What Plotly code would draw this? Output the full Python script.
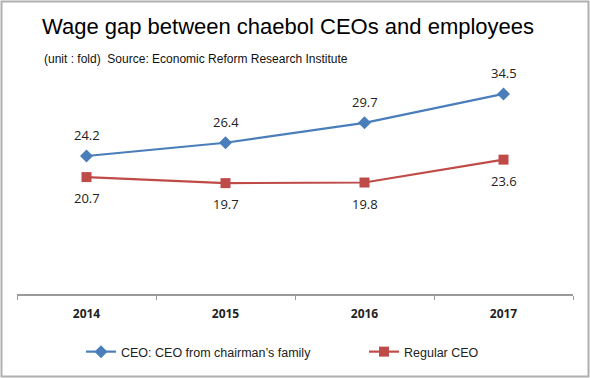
import plotly.graph_objects as go

years = ["2014", "2015", "2016", "2017"]
family_ceo = [24.2, 26.4, 29.7, 34.5]
regular_ceo = [20.7, 19.7, 19.8, 23.6]
series_names = ["CEO: CEO from chairman\u2019s family", "Regular CEO"]
title_text = "Wage gap between chaebol CEOs and employees"
subtitle_text = "(unit : fold)  Source: Economic Reform Research Institute"

W, H = 590, 378
L, R, T, B = 17, 573, 62, 294  # plot area in px

def px(x):
    return (x - L) / (R - L)

def py(y):
    return (B - y) / (B - T)

BLUE = "#4a7ebb"
RED = "#be4b48"
LABEL_FONT = dict(family="Open Sans, sans-serif", size=13, color="#222")
NARROW = "Liberation Sans, Arial, sans-serif"

fig = go.Figure()
fig.add_trace(go.Scatter(
    x=years, y=family_ceo, name=series_names[0], mode="lines+markers",
    line=dict(color=BLUE, width=2.2),
    marker=dict(symbol="diamond", size=10, color=BLUE),
    legend="legend",
))
fig.add_trace(go.Scatter(
    x=years, y=regular_ceo, name=series_names[1], mode="lines+markers",
    line=dict(color=RED, width=2.2),
    marker=dict(symbol="square", size=10, color=RED),
    legend="legend2",
))

# category axis: annotation x given as category index
annotations = []
for i, yv in enumerate(family_ceo):
    annotations.append(dict(x=i, y=yv, xref="x", yref="y", text=f"{yv:.1f}",
                            showarrow=False, yshift=21, font=LABEL_FONT))
for i, yv in enumerate(regular_ceo):
    annotations.append(dict(x=i, y=yv, xref="x", yref="y", text=f"{yv:.1f}",
                            showarrow=False, yshift=-21, font=LABEL_FONT))

annotations += [
    dict(text=title_text, xref="paper", yref="paper", x=px(40), y=py(26),
         xanchor="left", yanchor="middle", showarrow=False,
         font=dict(family=NARROW, size=22, color="#000")),
    dict(text=subtitle_text, xref="paper", yref="paper", x=px(42), y=py(59),
         xanchor="left", yanchor="middle", showarrow=False,
         font=dict(family=NARROW, size=12, color="#111")),
]

legend_common = dict(
    orientation="h", yanchor="middle", xanchor="left",
    font=dict(family=NARROW, size=12.5, color="#222"),
    itemwidth=30, bgcolor="rgba(0,0,0,0)",
)

fig.update_layout(
    width=W, height=H,
    margin=dict(l=L, r=W - R, t=T, b=H - B, autoexpand=False),
    paper_bgcolor="white", plot_bgcolor="white",
    showlegend=True,
    legend=dict(x=px(81), y=py(352), **legend_common),
    legend2=dict(x=px(364), y=py(352), **legend_common),
    xaxis=dict(
        type="category", range=[-0.5, 3.5], showgrid=False,
        showline=True, linecolor="#9a9a9a", linewidth=1.5,
        ticks="outside", ticklen=4, tickcolor="#9a9a9a", tickson="boundaries",
        tickfont=dict(family="Open Sans, sans-serif", size=12, color="#222", weight="bold"),
        ticklabelstandoff=8,
    ),
    yaxis=dict(range=[1.3, 39.8], showgrid=False, showticklabels=False, zeroline=False, showline=False),
    annotations=annotations,
    shapes=[
        dict(type="rect", xref="paper", yref="paper", x0=px(1.5), x1=px(588.5), y0=py(1.5), y1=py(376.5),
             line=dict(color="#b0b0b0", width=2), fillcolor="rgba(0,0,0,0)", layer="below"),
    ],
)

fig.write_html("out.html", config={"displayModeBar": False},
               post_script="document.body.style.margin='0';document.body.style.overflow='hidden';")
